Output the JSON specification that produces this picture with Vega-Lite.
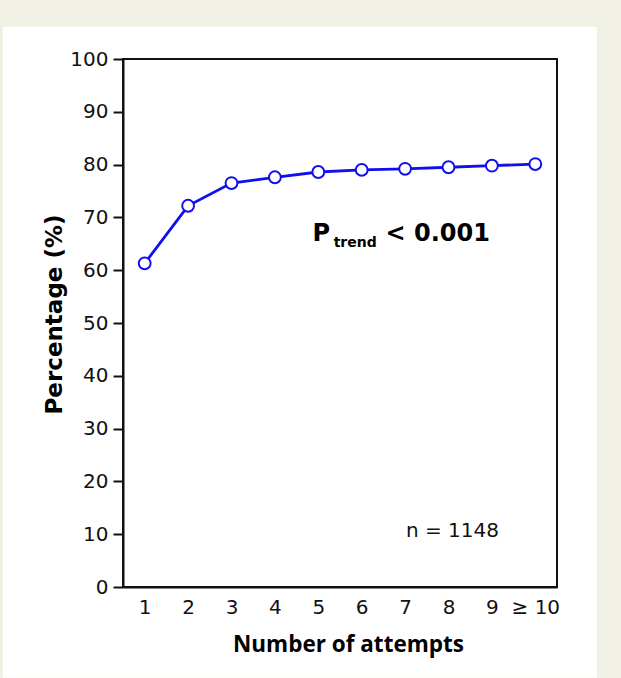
{
  "$schema": "https://vega.github.io/schema/vega-lite/v6.json",
  "width": 434,
  "height": 528,
  "autosize": "none",
  "padding": {"left": 123, "top": 59, "right": 64, "bottom": 91},
  "background": "#f0f0e4",
  "config": {
    "view": {"stroke": null}
  },
  "datasets": {
    "panel": [{"attempts": -2.27, "attempts2": 11.42, "pct": -17.2, "pct2": 106.1}],
    "frame": [{"attempts": 0.5, "attempts2": 10.5, "pct": 0, "pct2": 100}],
    "series": [
      {"attempts": 1, "pct": 61.3},
      {"attempts": 2, "pct": 72.2},
      {"attempts": 3, "pct": 76.5},
      {"attempts": 4, "pct": 77.6},
      {"attempts": 5, "pct": 78.6},
      {"attempts": 6, "pct": 79.0},
      {"attempts": 7, "pct": 79.2},
      {"attempts": 8, "pct": 79.5},
      {"attempts": 9, "pct": 79.8},
      {"attempts": 10, "pct": 80.1}
    ],
    "big": [
      {"attempts": 5.07, "pct": 65.5, "label": "P"},
      {"attempts": 7.75, "pct": 65.5, "label": "< 0.001"}
    ],
    "sub": [{"attempts": 5.85, "pct": 64.4, "label": "trend"}],
    "note": [{"attempts": 8.09, "pct": 9.53, "label": "n = 1148"}]
  },
  "layer": [
    {
      "data": {"name": "panel"},
      "mark": {"type": "rect", "fill": "white", "clip": false},
      "encoding": {
        "x": {"field": "attempts", "type": "quantitative"},
        "x2": {"field": "attempts2"},
        "y": {"field": "pct", "type": "quantitative"},
        "y2": {"field": "pct2"}
      }
    },
    {
      "data": {"name": "frame"},
      "mark": {"type": "rect", "fill": null, "stroke": "#111", "strokeWidth": 2},
      "encoding": {
        "x": {"field": "attempts", "type": "quantitative"},
        "x2": {"field": "attempts2"},
        "y": {"field": "pct", "type": "quantitative"},
        "y2": {"field": "pct2"}
      }
    },
    {
      "data": {"name": "series"},
      "mark": {"type": "line", "color": "#1010ee", "strokeWidth": 2.8},
      "encoding": {
        "x": {
          "field": "attempts", "type": "quantitative",
          "scale": {"domain": [0.5, 10.5], "nice": false, "zero": false},
          "axis": {
            "zindex": 1,
            "grid": false,
            "title": "Number of attempts",
            "values": [1, 2, 3, 4, 5, 6, 7, 8, 9, 10],
            "labelExpr": "datum.value == 10 ? '≥ 10' : datum.label",
            "ticks": false,
            "domainColor": "#111",
            "domainWidth": 2,
            "labelPadding": 10,
            "labelColor": "#111",
            "labelFont": "DejaVu Sans",
            "labelFontSize": 20,
            "titleColor": "#000",
            "titleFont": "Open Sans",
            "titleFontSize": 22.5,
            "titleFontWeight": "bold",
            "titlePadding": 16,
            "titleX": 225
          }
        },
        "y": {
          "field": "pct", "type": "quantitative",
          "scale": {"domain": [0, 100], "nice": false},
          "axis": {
            "zindex": 1,
            "grid": false,
            "title": "Percentage (%)",
            "values": [0, 10, 20, 30, 40, 50, 60, 70, 80, 90, 100],
            "domainColor": "#111",
            "domainWidth": 2,
            "tickColor": "#111",
            "tickWidth": 2,
            "tickSize": 10,
            "labelPadding": 5,
            "labelColor": "#111",
            "labelFont": "DejaVu Sans",
            "labelFontSize": 20,
            "titleColor": "#000",
            "titleFont": "DejaVu Sans",
            "titleFontSize": 23,
            "titleFontWeight": "bold",
            "titlePadding": 3,
            "titleY": 255
          }
        }
      }
    },
    {
      "data": {"name": "series"},
      "mark": {"type": "point", "shape": "circle", "filled": true, "fill": "white", "stroke": "#1010ee", "strokeWidth": 2, "size": 140, "opacity": 1},
      "encoding": {
        "x": {"field": "attempts", "type": "quantitative"},
        "y": {"field": "pct", "type": "quantitative"}
      }
    },
    {
      "data": {"name": "big"},
      "mark": {"type": "text", "font": "DejaVu Sans", "fontWeight": "bold", "fontSize": 24, "baseline": "alphabetic", "align": "center", "color": "#000"},
      "encoding": {
        "x": {"field": "attempts", "type": "quantitative"},
        "y": {"field": "pct", "type": "quantitative"},
        "text": {"field": "label"}
      }
    },
    {
      "data": {"name": "sub"},
      "mark": {"type": "text", "font": "DejaVu Sans", "fontWeight": "bold", "fontSize": 14, "baseline": "alphabetic", "align": "center", "color": "#000"},
      "encoding": {
        "x": {"field": "attempts", "type": "quantitative"},
        "y": {"field": "pct", "type": "quantitative"},
        "text": {"field": "label"}
      }
    },
    {
      "data": {"name": "note"},
      "mark": {"type": "text", "font": "DejaVu Sans", "fontSize": 20, "baseline": "alphabetic", "align": "center", "color": "#111"},
      "encoding": {
        "x": {"field": "attempts", "type": "quantitative"},
        "y": {"field": "pct", "type": "quantitative"},
        "text": {"field": "label"}
      }
    }
  ]
}
